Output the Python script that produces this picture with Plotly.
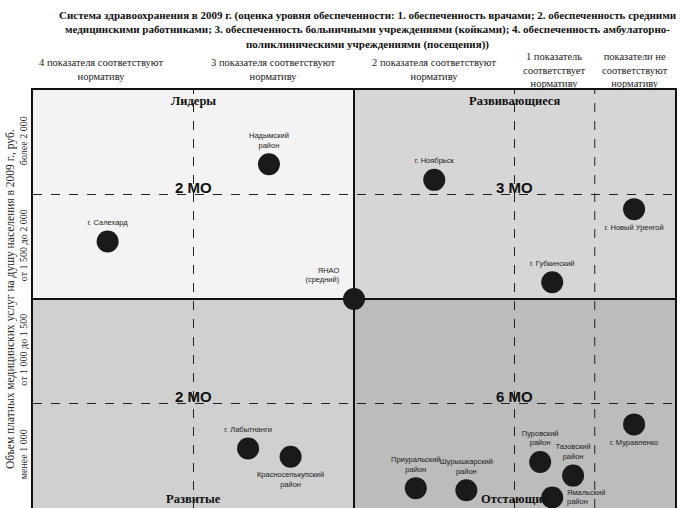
import plotly.graph_objects as go

# ---- data ----
names = ["Надымский<br>район", "г. Салехард", "ЯНАО<br>(средний)", "г. Ноябрьск",
         "г. Новый Уренгой", "г. Губкинский", "г. Лабытнанги", "Красноселькупский<br>район",
         "Приуральский<br>район", "Шурышкарский<br>район", "Пуровский<br>район",
         "Тазовский<br>район", "Ямальский<br>район", "г. Муравленко"]
x_vals = [2.94, 0.93, 4.0, 5.0, 7.49, 6.47, 2.68, 3.21, 4.77, 5.40, 6.32, 6.73, 6.47, 7.49]
y_vals = [3.29, 2.55, 2.0, 3.14, 2.86, 2.16, 0.57, 0.49, 0.19, 0.17, 0.44, 0.31, 0.10, 0.80]
label_pos = ["top center", "top center", "top left", "top center", "bottom center",
             "top center", "top center", "bottom center", "top center", "top center",
             "top center", "top center", "middle right", "bottom center"]

col_headers = ["4 показателя соответствуют<br>нормативу",
               "3 показателя соответствуют<br>нормативу",
               "2 показателя соответствуют<br>нормативу",
               "1 показатель<br>соответствует<br>нормативу",
               "показатели не<br>соответствуют<br>нормативу"]
col_centers = [0.85, 3, 5, 6.5, 7.5]
col_edges = [2, 6, 7]

band_labels = ["менее 1 000", "от 1 000 до 1 500", "от 1 500 до 2 000", "более 2 000"]
band_centers = [0.5, 1.5, 2.5, 3.5]
band_edges = [1, 3]

quad_names = ["Лидеры", "Развивающиеся", "Развитые", "Отстающие"]
quad_name_x = [2, 6, 2, 6]
quad_counts = ["2 МО", "3 МО", "2 МО", "6 МО"]
quad_count_x = [2, 6, 2, 6]
quad_count_y = [3, 3, 1, 1]

title_text = ("Система здравоохранения в 2009 г. (оценка уровня обеспеченности: 1. обеспеченность врачами; 2. обеспеченность средними<br>"
              "медицинскими работниками; 3. обеспеченность больничными учреждениями (койками); 4. обеспеченность амбулаторно-<br>"
              "поликлиническими учреждениями (посещения))")
y_title = "Объем платных медицинских услуг на душу населения в 2009 г., руб."

SERIF = "Liberation Serif, Times New Roman, serif"
SANS = "Liberation Sans, Arial, sans-serif"

fig = go.Figure()

# quadrant backgrounds
quad_fills = [("#f3f3f3", 0, 4, 2, 4), ("#d6d6d6", 4, 8, 2, 4),
              ("#d0d0d0", 0, 4, 0, 2), ("#bcbcbc", 4, 8, 0, 2)]
for col, x0, x1, y0, y1 in quad_fills:
    fig.add_shape(type="rect", xref="x", yref="y", x0=x0, x1=x1, y0=y0, y1=y1,
                  fillcolor=col, line_width=0, layer="below")

for xe in col_edges:
    fig.add_shape(type="line", xref="x", yref="y", x0=xe, x1=xe, y0=0, y1=4,
                  line=dict(color="#222", width=1, dash="dash"), layer="below")
for ye in band_edges:
    fig.add_shape(type="line", xref="x", yref="y", x0=0, x1=8, y0=ye, y1=ye,
                  line=dict(color="#222", width=1, dash="dash"), layer="below")
fig.add_shape(type="line", xref="x", yref="y", x0=4, x1=4, y0=0, y1=4,
              line=dict(color="#111", width=2), layer="below")
fig.add_shape(type="line", xref="x", yref="y", x0=0, x1=8, y0=2, y1=2,
              line=dict(color="#111", width=2), layer="below")

fig.add_trace(go.Scatter(
    x=x_vals, y=y_vals, mode="markers+text", text=names, textposition=label_pos,
    textfont=dict(family=SANS, size=7.5, color="#222"),
    marker=dict(size=22, color="#1a1a1a", line=dict(width=0)),
    hoverinfo="text", showlegend=False, cliponaxis=False))

for txt, xc in zip(col_headers, col_centers):
    fig.add_annotation(x=xc, xref="x", y=1.048, yref="paper", text=txt, showarrow=False,
                       yanchor="middle", font=dict(family=SERIF, size=10.5, color="#222"))

for i, (txt, xc) in enumerate(zip(quad_names, quad_name_x)):
    top = i < 2
    fig.add_annotation(x=xc, xref="x", y=4 if top else 0, yref="y", text="<b>" + txt + "</b>",
                       showarrow=False, yanchor="top" if top else "bottom",
                       yshift=-2 if top else 0,
                       font=dict(family=SERIF, size=12.5, color="#111"))

for txt, xc, yc in zip(quad_counts, quad_count_x, quad_count_y):
    fig.add_annotation(x=xc, xref="x", y=yc, yref="y", text="<b>" + txt + "</b>",
                       showarrow=False, yanchor="bottom", yshift=-3,
                       font=dict(family=SANS, size=15, color="#111"))

# chart title
fig.add_annotation(x=355 / 680, xref="paper", y=1 + (90 - 7) / 418, yref="paper",
                   text="<b>" + title_text + "</b>", showarrow=False,
                   xanchor="center", yanchor="top", align="center",
                   font=dict(family=SERIF, size=11, color="#111"))

# y-axis title
fig.add_annotation(x=-23 / 642, xref="paper", y=0.5, yref="paper", text=y_title,
                   textangle=-90, showarrow=False, xanchor="center", yanchor="middle",
                   font=dict(family=SERIF, size=11.5, color="#222"))

fig.update_layout(
    width=680, height=508,
    margin=dict(l=33, r=5, t=90, b=0),
    paper_bgcolor="white", plot_bgcolor="white",
    xaxis=dict(range=[0, 8], showgrid=False, zeroline=False, showticklabels=False,
               ticks="", showline=True, linecolor="#111", linewidth=1.5, mirror=True),
    yaxis=dict(range=[0, 4], showgrid=False, zeroline=False, tickvals=band_centers,
               ticktext=band_labels, tickangle=-90, ticks="",
               tickfont=dict(family=SERIF, size=10, color="#222"),
               showline=True, linecolor="#111", linewidth=1.5, mirror=True,
               automargin=False),
)

fig.write_html("out.html", config={"displayModeBar": False},
               post_script="document.body.style.margin='0px';")
